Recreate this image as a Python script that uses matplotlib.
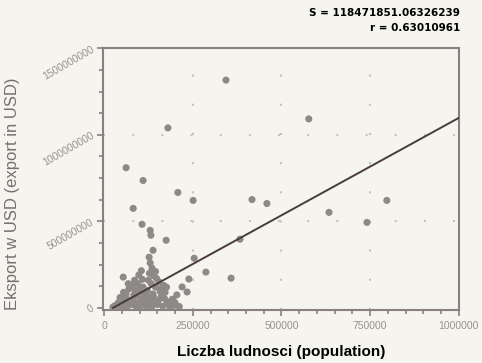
import numpy as np
import matplotlib
matplotlib.use("Agg")
import matplotlib.pyplot as plt
from matplotlib.ticker import MultipleLocator

plt.rcParams['font.family'] = ['Liberation Sans', 'DejaVu Sans']

# population of each town, export in millions of USD
population = [
    343700, 577000, 180000, 62000, 110000, 208000, 251000, 417000, 459000,
    82000, 634000, 797000, 741000, 107000, 130000, 132000, 175000, 383000,
    138000, 127000, 254000, 287000, 358000, 54000, 239000, 234000, 220000,
    # dense group of small towns
    130000, 135000, 128000, 140000, 125000, 133000, 145000, 122000, 138000,
    130000, 142000, 126000, 135000, 148000,
    105000, 98000, 108000, 95000, 110000, 100000, 92000, 106000, 97000, 103000,
    25000, 35000, 40000, 48000, 52000, 58000, 62000, 65000, 70000, 72000,
    78000, 80000, 84000, 88000, 90000, 45000, 68000, 75000, 55000, 30000,
    150000, 160000, 165000, 172000, 178000, 185000, 192000, 198000, 205000,
    212000, 160000, 155000, 168000, 145000, 118000, 115000, 86000, 120000,
    38000, 50000, 60000, 82000, 94000, 112000, 118000, 152000, 158000,
    170000, 182000, 195000, 140000, 176000, 200000, 66000, 100000, 124000,
]
export_musd = [
    1316, 1092, 1040, 810, 736, 667, 621, 626, 603,
    575, 552, 621, 494, 483, 448, 420, 391, 397,
    333, 293, 287, 207, 172, 178, 167, 92, 121,
    260, 230, 200, 185, 160, 140, 120, 100, 80,
    60, 40, 25, 10, 170,
    215, 190, 165, 140, 120, 95, 70, 50, 30, 12,
    5, 15, 30, 8, 50, 25, 80, 5, 110, 45,
    20, 130, 75, 100, 10, 60, 140, 35, 90, 12,
    20, 60, 10, 90, 35, 5, 50, 15, 75,
    8, 110, 150, 130, 210, 70, 30, 160, 45,
    20, 35, 60, 45, 25, 75, 10, 40, 95,
    55, 25, 40, 60, 120, 30, 20, 110, 15,
]

# regression line as printed by the original tool
fit_slope = 1126.0          # USD per inhabitant
fit_intercept = -28e6       # USD
fit_x = [25000, 1000000]

stat_s = "S = 118471851.06326239"
stat_r = "r = 0.63010961"

x_ticks = [0, 250000, 500000, 750000, 1000000]
y_ticks = [0, 500000000, 1000000000, 1500000000]

bg = '#f5f4ee'
spine_col = '#8a7f82'
tick_text = '#96938f'

population = np.array(population)
export = np.array(export_musd) * 1e6

fig = plt.figure(figsize=(4.82, 3.63), dpi=100, facecolor=bg)
ax = fig.add_axes([0.2137, 0.146, 0.7383, 0.722], facecolor=bg)

ax.scatter(population, export, s=26, color='#8d8986', edgecolors='none', zorder=3)

fx = np.array(fit_x)
ax.plot(fx, fit_slope * fx + fit_intercept, color='#4a3b3d', lw=1.4, zorder=4)

ax.set_xlim(-3000, 1000000)
ax.set_ylim(-12e6, 1502e6)

ax.set_xticks(x_ticks)
ax.set_xticklabels([str(t) for t in x_ticks])
ax.set_yticks(y_ticks)
ax.set_yticklabels([str(t) for t in y_ticks], rotation=30, ha='right', va='center',
                   rotation_mode='anchor')
ax.xaxis.set_minor_locator(MultipleLocator(50000))
ax.yaxis.set_minor_locator(MultipleLocator(125000000))

ax.tick_params(which='both', direction='out', color=spine_col, width=1.2,
               labelcolor=tick_text, labelsize=7.5)
ax.tick_params(which='major', length=4)
ax.tick_params(which='minor', length=3)
ax.tick_params(axis='x', pad=4)
ax.tick_params(axis='y', pad=3)

for sp in ax.spines.values():
    sp.set_color(spine_col)
    sp.set_linewidth(1.5)

for t in x_ticks[1:-1]:
    ax.axvline(t, color='#c6c3bd', lw=1.5, ls=(0, (1, 13)), zorder=1)
for t in y_ticks[1:-1]:
    ax.axhline(t, color='#c6c3bd', lw=1.5, ls=(0, (1, 13)), zorder=1)

ax.set_xlabel("Liczba ludnosci (population)", fontsize=11, fontweight='bold',
              color='black', labelpad=10)
ax.set_ylabel("Eksport w USD (export in USD)", fontsize=12, color='#737170')
ax.yaxis.set_label_coords(-0.232, 0.445)

fig.text(0.955, 0.955, stat_s, ha='right', va='baseline', fontsize=7.5,
         fontweight='bold', family=['DejaVu Sans'])
fig.text(0.955, 0.915, stat_r, ha='right', va='baseline', fontsize=7.5,
         fontweight='bold', family=['DejaVu Sans'])

fig.savefig('out.png', dpi=100, facecolor=bg)
